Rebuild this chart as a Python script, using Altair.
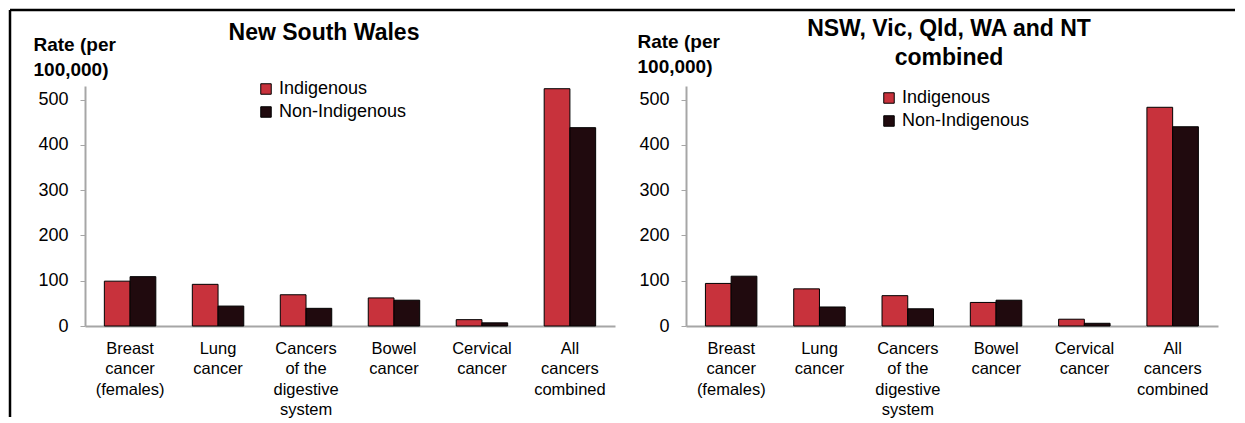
import json
import altair as alt
import pandas as pd

FONT = "Liberation Sans"

categories = ["Breast cancer (females)", "Lung cancer", "Cancers of the digestive system",
              "Bowel cancer", "Cervical cancer", "All cancers combined"]
category_lines = [["Breast", "cancer", "(females)"], ["Lung", "cancer"],
                  ["Cancers", "of the", "digestive", "system"], ["Bowel", "cancer"],
                  ["Cervical", "cancer"], ["All", "cancers", "combined"]]
groups = ["Indigenous", "Non-Indigenous"]
colors = ["#C8323C", "#200A0E"]

nsw_indigenous = [99, 92, 69, 62, 14, 524]
nsw_non_indigenous = [109, 44, 39, 57, 7, 438]
comb_indigenous = [94, 82, 67, 52, 15, 483]
comb_non_indigenous = [110, 42, 38, 57, 6, 440]

panel_titles = [["New South Wales"], ["NSW, Vic, Qld, WA and NT", "combined"]]
y_title = ["Rate (per", "100,000)"]
y_ticks = [0, 100, 200, 300, 400, 500]

label_expr = json.dumps(dict(zip(categories, category_lines))) + "[datum.value]"


def make_df(ind, non):
    rows = []
    for c, a, b in zip(categories, ind, non):
        rows.append({"category": c, "group": groups[0], "rate": a})
        rows.append({"category": c, "group": groups[1], "rate": b})
    return pd.DataFrame(rows)


def panel(df, title, width, leg_x, leg_y, ttl_x, ttl_y, title_dx, title_dy, extra=()):
    x = alt.X("category:N", sort=categories,
              scale=alt.Scale(paddingInner=0.415, paddingOuter=0.22),
              axis=alt.Axis(title=None, labelExpr=label_expr, labelAngle=0, ticks=False,
                            labelPadding=14, labelFontSize=16.5, labelLineHeight=20.5,
                            labelFont=FONT, labelColor="black", labelBaseline="top",
                            domainColor="#A6A6A6", domainWidth=2))
    y = alt.Y("rate:Q", scale=alt.Scale(domain=[0, 530], nice=False, zero=True),
              axis=alt.Axis(values=y_ticks, title=y_title, titleAngle=0, titleX=ttl_x,
                            titleY=ttl_y, titleAlign="left", titleBaseline="alphabetic",
                            titleFontSize=19, titleFont=FONT, titleFontWeight="bold",
                            titleLineHeight=25, titleColor="black",
                            labelFontSize=18, labelFont=FONT, labelColor="black",
                            labelPadding=12, tickSize=5, tickColor="#A6A6A6",
                            domainColor="#A6A6A6", domainWidth=2, grid=False))
    bars = alt.Chart(df).mark_bar(stroke="black", strokeWidth=1).encode(
        x=x,
        xOffset=alt.XOffset("group:N", sort=groups,
                            scale=alt.Scale(paddingInner=0, paddingOuter=0)),
        y=y,
        color=alt.Color("group:N", sort=groups,
                        scale=alt.Scale(domain=groups, range=colors),
                        legend=alt.Legend(title=None, orient="none", legendX=leg_x,
                                          legendY=leg_y, symbolType="square",
                                          symbolSize=110, symbolStrokeColor="black",
                                          symbolStrokeWidth=1, labelFontSize=18,
                                          labelFont=FONT, labelColor="black",
                                          rowPadding=5, labelOffset=4)),
    )
    return alt.layer(bars, *extra).properties(
        width=width, height=240,
        title=alt.TitleParams(text=title, fontSize=23, font=FONT, fontWeight="bold",
                              anchor="middle", frame="group", dx=title_dx, dy=title_dy,
                              color="black", lineHeight=29),
    )


frame_src = alt.Chart(pd.DataFrame({"f": [0]}))
top_rule = frame_src.mark_rule(color="black", strokeWidth=2.5).encode(
    x=alt.value(-75), x2=alt.value(1150), y=alt.value(-76))
left_rule = frame_src.mark_rule(color="black", strokeWidth=2.5).encode(
    x=alt.value(-75), y=alt.value(-76), y2=alt.value(331))

left = panel(make_df(nsw_indigenous, nsw_non_indigenous), panel_titles[0], 530,
             172, -6, -52, -36, -26, 40, extra=(top_rule, left_rule))
right = panel(make_df(comb_indigenous, comb_non_indigenous), panel_titles[1], 532,
              194, 3, -49, -39, -3, 42)

chart = alt.hconcat(left, right, spacing=71, bounds="flush").resolve_legend(
    color="independent").properties(padding=0).configure_view(stroke=None)

chart.save("out.html", embed_options={"renderer": "svg", "actions": False})
